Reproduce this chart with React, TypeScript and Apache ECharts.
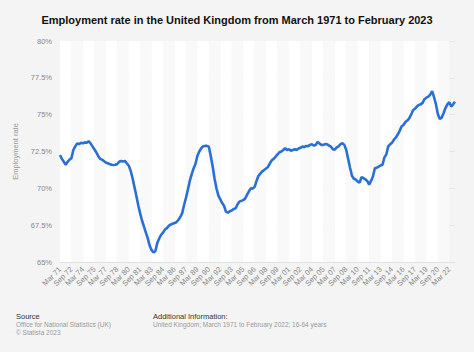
import React, { useEffect, useRef } from "react";
import * as echarts from "echarts";

const titleText = "Employment rate in the United Kingdom from March 1971 to February 2023";
const yAxisName = "Employment rate";
const years = [];
for (let y = 1971; y <= 2022; y++) years.push(y);
const quarterMonths = ["Mar", "Jun", "Sep", "Dec"];

const employmentRate = [
  72.26, 72.0, 71.8, 71.6,
  71.8, 71.95, 72.05, 72.6,
  72.85, 73.05, 73.0, 73.1,
  73.05, 73.12, 73.1, 73.2,
  73.05, 72.85, 72.65, 72.45,
  72.2, 72.0, 71.95, 71.85,
  71.75, 71.7, 71.65, 71.6,
  71.58, 71.6, 71.65, 71.8,
  71.85, 71.82, 71.86, 71.7,
  71.55, 71.2, 70.7, 70.1,
  69.5, 68.85, 68.3, 67.8,
  67.4, 67.0, 66.6, 66.1,
  65.8, 65.65, 65.75, 66.3,
  66.6, 66.85, 67.0, 67.2,
  67.3, 67.45, 67.55, 67.6,
  67.65, 67.7, 67.85, 68.05,
  68.3, 68.85, 69.35, 69.9,
  70.5, 70.95, 71.35, 71.65,
  72.2, 72.5, 72.72, 72.85,
  72.88, 72.88, 72.83, 72.2,
  71.5, 70.65, 70.0, 69.5,
  69.25, 69.0, 68.8, 68.4,
  68.35, 68.45, 68.5, 68.6,
  68.64, 68.9, 69.1, 69.15,
  69.2, 69.3, 69.55, 69.8,
  70.0, 69.98, 70.1, 70.5,
  70.85, 71.0, 71.15, 71.25,
  71.35, 71.45, 71.7, 71.9,
  72.0, 72.15, 72.3, 72.45,
  72.5, 72.6, 72.72, 72.6,
  72.65, 72.55, 72.6, 72.65,
  72.6, 72.7, 72.75, 72.83,
  72.8, 72.88, 72.85, 72.95,
  72.99, 72.9, 72.94, 73.15,
  73.05, 72.94, 72.95, 73.0,
  72.99, 72.9, 72.83, 72.65,
  72.62, 72.78, 72.85, 73.0,
  73.06, 72.95, 72.6, 72.0,
  71.4, 70.85, 70.65, 70.6,
  70.45, 70.4, 70.75, 70.7,
  70.61, 70.5, 70.25, 70.5,
  70.8, 71.36, 71.4, 71.47,
  71.55, 71.6, 72.1, 72.3,
  72.85, 72.99, 73.1, 73.3,
  73.45, 73.65, 73.9, 74.2,
  74.3, 74.5, 74.6, 74.75,
  75.0, 75.3, 75.4, 75.55,
  75.66, 75.7, 75.8, 76.05,
  76.15, 76.22, 76.35, 76.6,
  76.2, 75.7, 75.05, 74.7,
  74.8, 75.1, 75.45, 75.7,
  75.85, 75.55, 75.7, 75.88,
];

const yMin = 65;
const yMax = 80;
const yStep = 2.5;

const sourceLines = ["Office for National Statistics (UK)", "© Statista 2023"];
const additionalInfo = "United Kingdom; March 1971 to February 2022; 16-64 years";

export default function App() {
  const ref = useRef<HTMLDivElement>(null);
  useEffect(() => {
    if (!ref.current) return;
    const chart = echarts.init(ref.current, undefined, { renderer: "svg" });
    const categories: string[] = [];
    years.forEach((y) => {
      quarterMonths.forEach((m) => {
        categories.push(m + " " + String(y % 100).padStart(2, "0"));
      });
    });
    const font = "Liberation Sans, Arial, sans-serif";
    chart.setOption({
      animation: false,
      backgroundColor: "#f4f4f4",
      textStyle: { fontFamily: font },
      title: {
        text: titleText,
        left: "center",
        top: 9,
        textStyle: { fontSize: 11, fontWeight: "bold", color: "#111", fontFamily: font },
      },
      grid: { left: 60, right: 19, top: 41, bottom: 90, containLabel: false },
      xAxis: {
        type: "category",
        data: categories,
        boundaryGap: false,
        axisLine: { show: true, lineStyle: { color: "#e2e2e2" } },
        axisTick: { show: false },
        axisLabel: {
          interval: 5,
          rotate: 45,
          fontSize: 7.5,
          color: "#888",
          margin: 6,
          fontFamily: font,
        },
        splitLine: { show: false },
        splitArea: { show: true, interval: 5, areaStyle: { color: ["#ffffff", "#f9f9f9"] } },
      },
      yAxis: {
        type: "value",
        min: yMin,
        max: yMax,
        interval: yStep,
        name: yAxisName,
        nameLocation: "middle",
        nameGap: 36,
        nameRotate: 90,
        nameTextStyle: { fontSize: 7.5, color: "#999", fontFamily: font },
        axisLine: { show: false },
        axisTick: { show: false },
        axisLabel: {
          fontSize: 7.5,
          color: "#888",
          margin: 8,
          fontFamily: font,
          formatter: (v: number) => v + "%",
        },
        splitLine: { lineStyle: { color: "#e6e6e6", width: 1 } },
      },
      series: [
        {
          type: "line",
          data: employmentRate,
          showSymbol: false,
          lineStyle: { color: "#2a6fd6", width: 2.6 },
          itemStyle: { color: "#2a6fd6" },
        },
      ],
      graphic: [
        { type: "text", left: 16, top: 312, style: { text: "Source", fontSize: 7.5, fill: "#333", fontFamily: font } },
        { type: "text", left: 16, top: 321, style: { text: sourceLines[0], fontSize: 6.5, fill: "#999", fontFamily: font } },
        { type: "text", left: 16, top: 329, style: { text: sourceLines[1], fontSize: 6.5, fill: "#999", fontFamily: font } },
        { type: "text", left: 153, top: 312, style: { text: "Additional Information:", fontSize: 7.5, fill: "#333", fontFamily: font } },
        { type: "text", left: 153, top: 321, style: { text: additionalInfo, fontSize: 6.5, fill: "#999", fontFamily: font } },
      ],
    });
    return () => chart.dispose();
  }, []);
  return (
    <div
      ref={ref}
      style={{ position: "fixed", left: 0, top: 0, width: 474, height: 352 }}
    />
  );
}
